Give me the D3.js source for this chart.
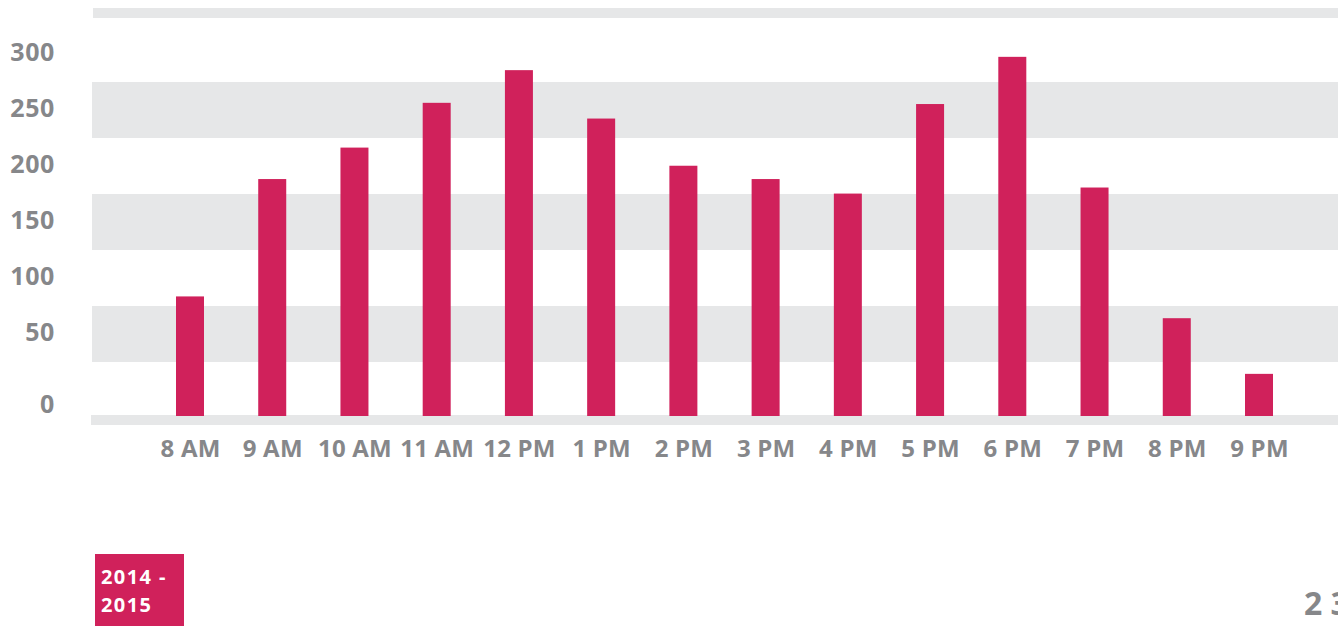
<!DOCTYPE html>
<html>
<head>
<meta charset="utf-8">
<script src="https://cdn.jsdelivr.net/npm/d3@7"></script>
<style>
  body { margin: 0; background: #fff; }
  svg text { font-family: "Open Sans", sans-serif; font-weight: 700; }
  .tick text { fill: #86878a; }
  .axis.y .tick text { font-size: 25px; letter-spacing: 0.6px; }
  .axis.x .tick text { font-size: 24px; letter-spacing: 0.2px; }
  .axis .domain, .axis line { display: none; }
</style>
</head>
<body>
<div id="HourChart"></div>
<script>
// data
var hours = ["8 AM", "9 AM", "10 AM", "11 AM", "12 PM", "1 PM", "2 PM", "3 PM", "4 PM", "5 PM", "6 PM", "7 PM", "8 PM", "9 PM"];
var counts = [98, 195, 221, 258, 285, 245, 206, 195, 183, 257, 296, 188, 80, 34];
var yTicks = [0, 50, 100, 150, 200, 250, 300];
var bandTicks = [250, 150, 50];
var period = ["2014 -", "2015"];
var pageNo = "2 3";

let width = 1338, height = 626;

let svg = d3.select('#HourChart')
    .append('svg')
    .attr('width', width)
    .attr('height', height);

// bar scale (0 sits on the grey base rule)
let y = d3.scaleLinear()
    .domain([0, 300])
    .range([415, 52]);

// label / band scale, spaced a bit differently in the original
let ly = d3.scaleLinear()
    .domain([0, 50, 300])
    .range([406, 334, 54]);

let x = d3.scalePoint()
    .domain(hours)
    .range([190, 1259]);

// grey bands
svg.append('rect')
    .attr('x', 93).attr('y', 8)
    .attr('width', width - 93).attr('height', 10)
    .attr('fill', '#e6e7e8');

svg.selectAll('.band')
    .data(bandTicks)
    .enter().append('rect')
    .attr('class', 'band')
    .attr('x', 92)
    .attr('y', d => ly(d) - 28)
    .attr('width', width - 92)
    .attr('height', 56)
    .attr('fill', '#e6e7e8');

// base rule
svg.append('rect')
    .attr('x', 91).attr('y', y(0))
    .attr('width', width - 91).attr('height', 10)
    .attr('fill', '#e6e7e8');

// bars
svg.selectAll('.bar')
    .data(counts)
    .enter().append('rect')
    .attr('class', 'bar')
    .attr('x', (d, i) => x(hours[i]) - 14)
    .attr('y', d => y(d))
    .attr('width', 28)
    .attr('height', d => y(0) - y(d) + 1)
    .attr('fill', '#d0215b');

// y labels
let yAxis = d3.axisLeft(ly)
    .tickValues(yTicks)
    .tickSize(0)
    .tickPadding(0);

svg.append('g')
    .attr('class', 'axis y')
    .attr('transform', 'translate(55,0)')
    .call(yAxis)
    .selectAll('text')
    .attr('dy', '0.24em');

// x labels
let xAxis = d3.axisBottom(x)
    .tickSize(0)
    .tickPadding(0);

svg.append('g')
    .attr('class', 'axis x')
    .attr('transform', 'translate(0,440)')
    .call(xAxis)
    .selectAll('text')
    .attr('dy', '0.71em');

// period tag
svg.append('rect')
    .attr('x', 95).attr('y', 554)
    .attr('width', 89).attr('height', 72)
    .attr('fill', '#d0215b');

svg.selectAll('.period')
    .data(period)
    .enter().append('text')
    .attr('class', 'period')
    .attr('x', 101)
    .attr('y', (d, i) => 584 + i * 28)
    .attr('fill', '#fff')
    .style('font-size', '20px')
    .style('letter-spacing', '1.4px')
    .text(d => d);

// page number, cut off at the edge like the source page
svg.append('text')
    .attr('x', 1304)
    .attr('y', 615)
    .attr('fill', '#86878a')
    .style('font-size', '32px')
    .text(pageNo);
</script>
</body>
</html>
